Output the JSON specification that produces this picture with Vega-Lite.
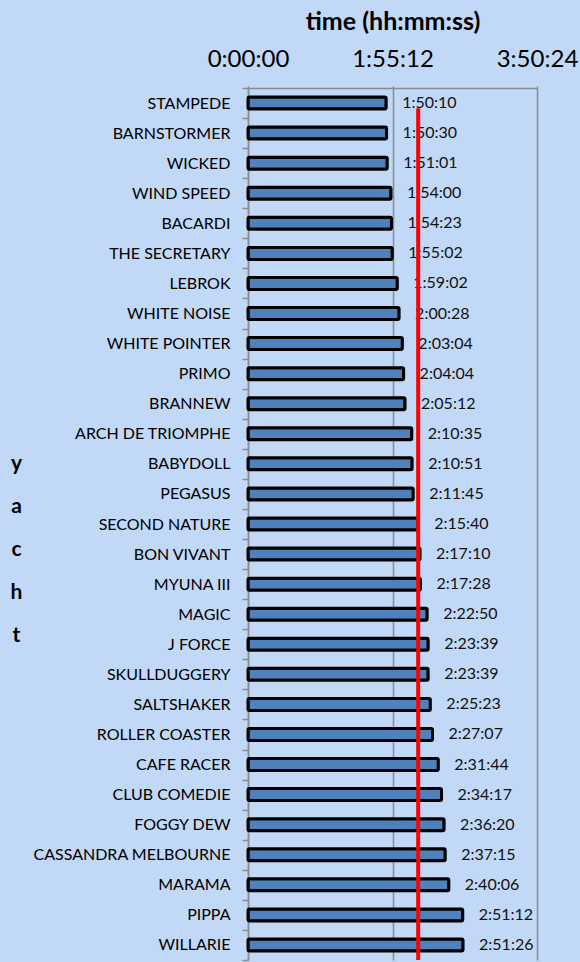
{
  "$schema": "https://vega.github.io/schema/vega-lite/v6.json",
  "width": 289,
  "height": 872,
  "autosize": {"type": "none"},
  "padding": {"left": 248, "top": 88, "right": 43, "bottom": 2},
  "background": "#c1d8f6",
  "config": {
    "font": "Lato",
    "view": {"stroke": null}
  },
  "datasets": {
    "times": [
      {"yacht": "STAMPEDE", "seconds": 6610, "label": "1:50:10"},
      {"yacht": "BARNSTORMER", "seconds": 6630, "label": "1:50:30"},
      {"yacht": "WICKED", "seconds": 6661, "label": "1:51:01"},
      {"yacht": "WIND SPEED", "seconds": 6840, "label": "1:54:00"},
      {"yacht": "BACARDI", "seconds": 6863, "label": "1:54:23"},
      {"yacht": "THE SECRETARY", "seconds": 6902, "label": "1:55:02"},
      {"yacht": "LEBROK", "seconds": 7142, "label": "1:59:02"},
      {"yacht": "WHITE NOISE", "seconds": 7228, "label": "2:00:28"},
      {"yacht": "WHITE POINTER", "seconds": 7384, "label": "2:03:04"},
      {"yacht": "PRIMO", "seconds": 7444, "label": "2:04:04"},
      {"yacht": "BRANNEW", "seconds": 7512, "label": "2:05:12"},
      {"yacht": "ARCH DE TRIOMPHE", "seconds": 7835, "label": "2:10:35"},
      {"yacht": "BABYDOLL", "seconds": 7851, "label": "2:10:51"},
      {"yacht": "PEGASUS", "seconds": 7905, "label": "2:11:45"},
      {"yacht": "SECOND NATURE", "seconds": 8140, "label": "2:15:40"},
      {"yacht": "BON VIVANT", "seconds": 8230, "label": "2:17:10"},
      {"yacht": "MYUNA III", "seconds": 8248, "label": "2:17:28"},
      {"yacht": "MAGIC", "seconds": 8570, "label": "2:22:50"},
      {"yacht": "J FORCE", "seconds": 8619, "label": "2:23:39"},
      {"yacht": "SKULLDUGGERY", "seconds": 8619, "label": "2:23:39"},
      {"yacht": "SALTSHAKER", "seconds": 8723, "label": "2:25:23"},
      {"yacht": "ROLLER COASTER", "seconds": 8827, "label": "2:27:07"},
      {"yacht": "CAFE RACER", "seconds": 9104, "label": "2:31:44"},
      {"yacht": "CLUB COMEDIE", "seconds": 9257, "label": "2:34:17"},
      {"yacht": "FOGGY DEW", "seconds": 9380, "label": "2:36:20"},
      {"yacht": "CASSANDRA MELBOURNE", "seconds": 9435, "label": "2:37:15"},
      {"yacht": "MARAMA", "seconds": 9606, "label": "2:40:06"},
      {"yacht": "PIPPA", "seconds": 10272, "label": "2:51:12"},
      {"yacht": "WILLARIE", "seconds": 10286, "label": "2:51:26"}
    ],
    "ref": [
      {"seconds": 8140, "from": "STAMPEDE", "to": "WILLARIE"}
    ]
  },
  "layer": [
    {
      "data": {"name": "times"},
      "mark": {"type": "bar", "fill": "#4f81bd", "stroke": "#000000", "strokeWidth": 3, "size": 12, "cornerRadius": 1.5},
      "encoding": {
        "y": {
          "field": "yacht", "type": "nominal", "sort": null,
          "scale": {"paddingInner": 0, "paddingOuter": 0},
          "axis": {
            "orient": "left",
            "title": ["y", "a", "c", "h", "t"],
            "titleAngle": 0,
            "titleAlign": "center",
            "titleBaseline": "middle",
            "titleX": -232,
            "titleY": 375,
            "titleLineHeight": 43,
            "titleFontSize": 21,
            "titleFontWeight": "bold",
            "titleColor": "#000000",
            "labelFontSize": 16,
            "labelLimit": 260,
            "labelColor": "#000000",
            "labelPadding": 12,
            "tickSize": 6,
            "tickBand": "extent",
            "tickColor": "#8c8c8c",
            "tickWidth": 1.5,
            "domainColor": "#8c8c8c",
            "domainWidth": 1.5,
            "grid": false
          }
        },
        "x": {
          "field": "seconds", "type": "quantitative",
          "scale": {"domain": [0, 13824], "nice": false, "zero": true},
          "axis": {
            "orient": "top",
            "values": [0, 6912, 13824],
            "labelExpr": "floor(datum.value/3600) + ':' + (floor(datum.value%3600/60) < 10 ? '0' : '') + floor(datum.value%3600/60) + ':' + (datum.value%60 < 10 ? '0' : '') + (datum.value%60)",
            "labelFlush": false,
            "labelFontSize": 24,
            "labelColor": "#000000",
            "labelPadding": 15,
            "tickSize": 2,
            "tickColor": "#8c8c8c",
            "tickWidth": 1.5,
            "domainColor": "#8c8c8c",
            "domainWidth": 1.5,
            "grid": true,
            "gridColor": "#8c8c8c",
            "gridWidth": 1.5,
            "title": "time (hh:mm:ss)",
            "titleFontSize": 25,
            "titleFontWeight": "bold",
            "titleColor": "#000000",
            "titlePadding": 13
          }
        }
      }
    },
    {
      "data": {"name": "times"},
      "mark": {"type": "text", "align": "left", "baseline": "middle", "dx": 16, "fontSize": 16, "color": "#111111"},
      "encoding": {
        "y": {"field": "yacht", "type": "nominal", "sort": null},
        "x": {"field": "seconds", "type": "quantitative"},
        "text": {"field": "label"}
      }
    },
    {
      "data": {"name": "ref"},
      "mark": {"type": "rule", "color": "#ff0000", "strokeWidth": 4},
      "encoding": {
        "x": {"field": "seconds", "type": "quantitative"},
        "y": {"field": "from", "type": "nominal", "sort": null, "bandPosition": 0.67},
        "y2": {"field": "to", "bandPosition": 1}
      }
    }
  ]
}
